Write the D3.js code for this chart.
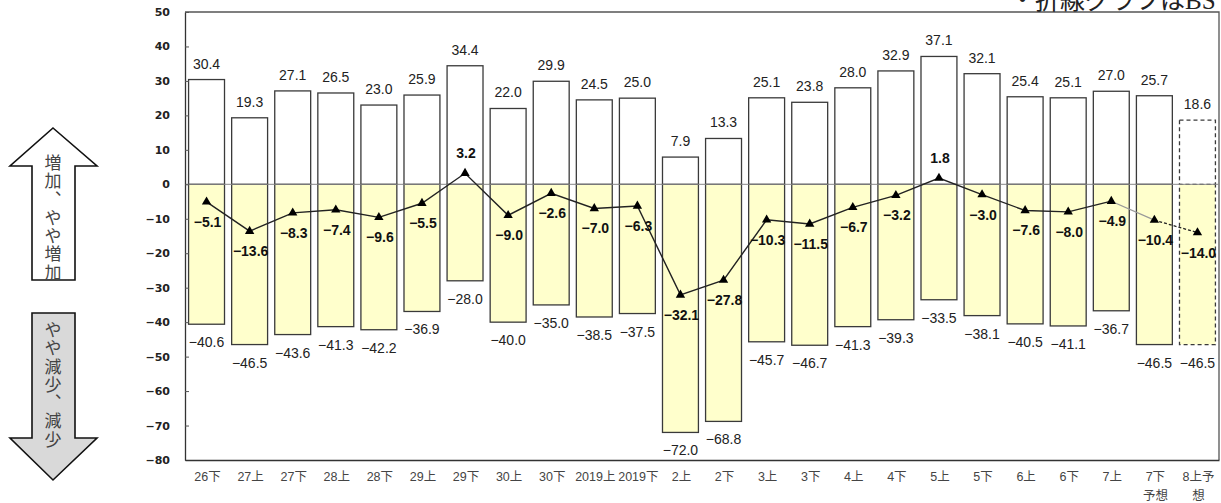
<!DOCTYPE html>
<html>
<head>
<meta charset="utf-8">
<script src="https://cdn.jsdelivr.net/npm/d3@7"></script>
<style>
  body { margin: 0; background: #fff; }
  svg { display: block; }
</style>
</head>
<body>
<div id="main_svg"></div>
<script>
// categories (half-years); "\n" splits a tick label into two lines
var categories = ["26下", "27上", "27下", "28上", "28下", "29上", "29下", "30上", "30下",
    "2019上", "2019下", "2上", "2下", "3上", "3下", "4上", "4下", "5上", "5下",
    "6上", "6下", "7上", "7下\n予想", "8上予\n想"];

// share of "increase" answers (white bars)
var increase = [30.4, 19.3, 27.1, 26.5, 23.0, 25.9, 34.4, 22.0, 29.9, 24.5, 25.0, 7.9,
    13.3, 25.1, 23.8, 28.0, 32.9, 37.1, 32.1, 25.4, 25.1, 27.0, 25.7, 18.6];

// share of "decrease" answers (yellow bars)
var decrease = [-40.6, -46.5, -43.6, -41.3, -42.2, -36.9, -28.0, -40.0, -35.0, -38.5, -37.5, -72.0,
    -68.8, -45.7, -46.7, -41.3, -39.3, -33.5, -38.1, -40.5, -41.1, -36.7, -46.5, -46.5];

// BS line
var bs = [-5.1, -13.6, -8.3, -7.4, -9.6, -5.5, 3.2, -9.0, -2.6, -7.0, -6.3, -32.1,
    -27.8, -10.3, -11.5, -6.7, -3.2, 1.8, -3.0, -7.6, -8.0, -4.9, -10.4, -14.0];

var yTicks = [50, 40, 30, 20, 10, 0, -10, -20, -30, -40, -50, -60, -70, -80];

var note = "・折線グラフはBS";
var upText = "増加、やや増加";
var downText = "やや減少、減少";

// set the dimensions of the graph
var W = 1221, H = 503;
var plot = {left: 185, right: 1219, top: 12, bottom: 460};
var forecastIndex = 23; // last bar is a forecast (dashed)

var svg = d3.select("#main_svg").append("svg")
    .attr("width", W)
    .attr("height", H);

// set the ranges
var x = d3.scaleBand()
    .domain(categories)
    .range([plot.left, plot.right])
    .paddingInner(0.166)
    .paddingOuter(0.083);
var y = d3.scaleLinear()
    .domain([-80, 50])
    .range([plot.bottom, plot.top]);

var fmt = d3.format(".1f");
var latin = "'Liberation Sans', Arial, 'Noto Sans CJK JP', sans-serif";

// frame (top and right)
svg.append("path")
    .attr("d", "M" + plot.left + "," + plot.top + "H" + plot.right + "V" + plot.bottom)
    .attr("fill", "none")
    .attr("stroke", "#555")
    .attr("stroke-width", 1.3);

// negative bars
svg.selectAll(".bar-neg")
    .data(decrease)
    .enter().append("rect")
    .attr("class", "bar-neg")
    .attr("x", function (d, i) { return x(categories[i]); })
    .attr("width", x.bandwidth())
    .attr("y", y(0))
    .attr("height", function (d) { return y(d) - y(0); })
    .attr("fill", "#ffffcc")
    .attr("stroke", "#3a3a3a")
    .attr("stroke-width", 1.3)
    .attr("stroke-dasharray", function (d, i) { return i === forecastIndex ? "4,3" : null; });

// positive bars
svg.selectAll(".bar-pos")
    .data(increase)
    .enter().append("rect")
    .attr("class", "bar-pos")
    .attr("x", function (d, i) { return x(categories[i]); })
    .attr("width", x.bandwidth())
    .attr("y", function (d) { return y(d); })
    .attr("height", function (d) { return y(0) - y(d); })
    .attr("fill", "#fff")
    .attr("stroke", "#3a3a3a")
    .attr("stroke-width", 1.3)
    .attr("stroke-dasharray", function (d, i) { return i === forecastIndex ? "4,3" : null; });

// zero line
svg.append("line")
    .attr("x1", plot.left).attr("x2", plot.right)
    .attr("y1", y(0)).attr("y2", y(0))
    .attr("stroke", "#888")
    .attr("stroke-width", 1);

// bar labels
svg.selectAll(".lab-pos")
    .data(increase)
    .enter().append("text")
    .attr("x", function (d, i) { return x(categories[i]) + x.bandwidth() / 2; })
    .attr("y", function (d) { return y(d) - 11; })
    .attr("text-anchor", "middle")
    .style("font", "14px " + latin)
    .attr("fill", "#222")
    .text(function (d) { return fmt(d); });

svg.selectAll(".lab-neg")
    .data(decrease)
    .enter().append("text")
    .attr("x", function (d, i) { return x(categories[i]) + x.bandwidth() / 2; })
    .attr("y", function (d) { return y(d) + 23; })
    .attr("text-anchor", "middle")
    .style("font", "14px " + latin)
    .attr("fill", "#222")
    .text(function (d) { return fmt(d); });

// BS line: solid up to 7上, thin grey to 7下, dashed to the forecast
var cx = function (i) { return x(categories[i]) + x.bandwidth() / 2; };
var line = d3.line()
    .x(function (d) { return cx(d.i); })
    .y(function (d) { return y(d.v); });
var pts = bs.map(function (v, i) { return {v: v, i: i}; });

svg.append("path")
    .attr("d", line(pts.slice(0, 22)))
    .attr("fill", "none")
    .attr("stroke", "#222")
    .attr("stroke-width", 1.4);
svg.append("path")
    .attr("d", line(pts.slice(21, 23)))
    .attr("fill", "none")
    .attr("stroke", "#999")
    .attr("stroke-width", 1.2);
svg.append("path")
    .attr("d", line(pts.slice(22, 24)))
    .attr("fill", "none")
    .attr("stroke", "#222")
    .attr("stroke-width", 1.3)
    .attr("stroke-dasharray", "3,2");

svg.selectAll(".marker")
    .data(pts)
    .enter().append("path")
    .attr("d", d3.symbol().type(d3.symbolTriangle).size(38))
    .attr("transform", function (d) { return "translate(" + cx(d.i) + "," + y(d.v) + ")"; })
    .attr("fill", "#000");

svg.selectAll(".lab-bs")
    .data(pts)
    .enter().append("text")
    .attr("x", function (d) { return cx(d.i) + 1; })
    .attr("y", function (d) { return d.v >= 0 ? y(d.v) - 15 : y(d.v) + 25; })
    .attr("text-anchor", "middle")
    .style("font", "bold 14px " + latin)
    .attr("fill", "#111")
    .text(function (d) { return fmt(d.v); });

// y axis
var yAxis = svg.append("g")
    .attr("transform", "translate(" + plot.left + ",0)")
    .call(d3.axisLeft(y).tickValues(yTicks).tickFormat(d3.format("d"))
        .tickSizeInner(-4).tickSizeOuter(0).tickPadding(15));
yAxis.select(".domain").attr("stroke", "#333").attr("stroke-width", 1.3);
yAxis.selectAll(".tick line").attr("stroke", "#555");
yAxis.selectAll(".tick text")
    .style("font", "bold 11px 'DejaVu Sans', sans-serif")
    .attr("fill", "#222");

// x axis
var xAxis = svg.append("g")
    .attr("transform", "translate(0," + plot.bottom + ")")
    .call(d3.axisBottom(x).tickSize(0).tickPadding(0).tickFormat(""));
xAxis.select(".domain").attr("stroke", "#333").attr("stroke-width", 1.3);
xAxis.selectAll(".tick text").remove();
xAxis.selectAll(".tick").each(function (d) {
    var t = d3.select(this).append("text")
        .attr("text-anchor", "middle")
        .attr("fill", "#444")
        .style("font", "12.5px " + latin);
    d.split("\n").forEach(function (s, k) {
        t.append("tspan").attr("x", 1).attr("y", 21 + k * 19).text(s);
    });
});

// note at the top right (cut by the page edge)
svg.append("text")
    .attr("x", 1010)
    .attr("y", 9)
    .style("font", "25px 'Liberation Serif', 'Noto Sans CJK JP', serif")
    .attr("fill", "#222")
    .text(note);

// arrows on the left
var upPts = [[53, 128], [97, 166], [75, 166], [75, 280], [32, 280], [32, 166], [10, 166]];
var downPts = [[32, 313], [75, 313], [75, 438], [97, 438], [53, 480], [10, 438], [32, 438]];
var defs = svg.append("defs");
defs.append("clipPath").attr("id", "clip-up")
    .append("polygon").attr("points", upPts.join(" "));
defs.append("clipPath").attr("id", "clip-down")
    .append("polygon").attr("points", downPts.join(" "));

svg.append("polygon")
    .attr("points", upPts.join(" "))
    .attr("fill", "#fff")
    .attr("stroke", "#111")
    .attr("stroke-width", 1.6);
svg.append("polygon")
    .attr("points", downPts.join(" "))
    .attr("fill", "#d9d9d9")
    .attr("stroke", "#111")
    .attr("stroke-width", 1.6);

function verticalText(str, x0, y0, clip) {
    svg.append("g").attr("clip-path", "url(#" + clip + ")")
        .append("text")
        .attr("x", x0)
        .attr("y", y0)
        .style("writing-mode", "vertical-rl")
        .style("letter-spacing", "1.3px")
        .style("font", "17px 'Noto Sans CJK JP', sans-serif")
        .attr("fill", "#444")
        .text(str);
}
verticalText(upText, 53, 154, "clip-up");
verticalText(downText, 53, 321, "clip-down");
</script>
</body>
</html>
